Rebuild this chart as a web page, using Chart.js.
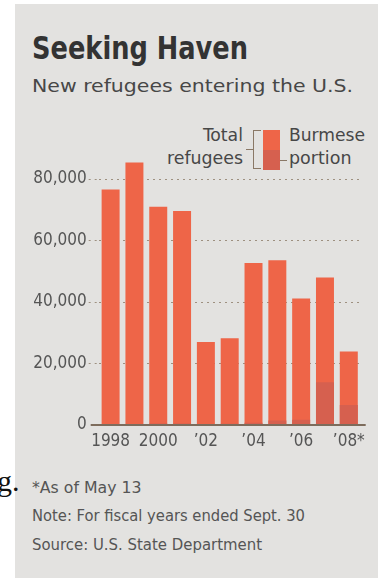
<!DOCTYPE html>
<html><head><meta charset="utf-8">
<script src="https://cdn.jsdelivr.net/npm/chart.js@4.4.1/dist/chart.umd.min.js"></script>
<style>
html,body{margin:0;padding:0;background:#fff;width:380px;height:578px;overflow:hidden;position:relative;}
#panel{position:absolute;left:15px;top:4px;width:363px;height:574px;background:#e3e2e0;}
#c{position:absolute;left:0;top:0;}
.t{position:absolute;white-space:nowrap;line-height:1;font-family:'DejaVu Sans Condensed','DejaVu Sans',sans-serif;font-stretch:condensed;transform-origin:0 0;color:#474747;}
.g{position:absolute;background:#8a7866;}
</style></head>
<body>
<div id="panel"></div>
<div class="t fit" data-x="32" data-b="59.3" data-fs="32" data-w="216" style="font-weight:bold;color:#333;">Seeking Haven</div>
<div class="t fit" data-x="32" data-b="93.3" data-fs="17.5" data-w="321">New refugees entering the U.S.</div>
<div class="t fit" data-x="203" data-b="141.7" data-fs="17.5" data-w="40">Total</div>
<div class="t fit" data-x="167" data-b="165" data-fs="17.5" data-w="76">refugees</div>
<div class="t fit" data-x="289" data-b="141.7" data-fs="17.5" data-w="76">Burmese</div>
<div class="t fit" data-x="289.3" data-b="165" data-fs="17.5" data-w="62.5">portion</div>
<div class="t fit" data-x="32" data-b="494" data-fs="15.5" data-w="109.5" style="color:#555;">*As of May 13</div>
<div class="t fit" data-x="32" data-b="522.3" data-fs="15.5" data-w="273" style="color:#555;">Note: For fiscal years ended Sept. 30</div>
<div class="t fit" data-x="32" data-b="551" data-fs="15.5" data-w="230" style="color:#555;">Source: U.S. State Department</div>
<div class="t" data-x="-3" data-b="491" data-fs="30" style="font-family:'Liberation Serif',serif;font-stretch:normal;color:#111;">g.</div>

<div style="position:absolute;left:253px;top:130px;width:8px;height:39px;box-sizing:border-box;border:1.5px solid #8a7866;border-right:none;"></div>
<div class="g" style="left:246px;top:148.5px;width:7px;height:1.5px;"></div>
<div style="position:absolute;left:263px;top:129.5px;width:17px;height:20px;background:#ee6548;"></div>
<div style="position:absolute;left:263px;top:149.5px;width:17px;height:20px;background:#d6604f;"></div>
<div class="g" style="left:280px;top:159.5px;width:6.5px;height:1.5px;"></div>

<canvas id="c" width="380" height="578"></canvas>
<script>
// ---- data ----
const years = ['1998','1999','2000','2001','2002','2003','2004','2005','2006','2007','2008'];
const xTickLabels = ['1998','','2000','','\u201902','','\u201904','','\u201906','','\u201908*'];
const totalRefugees = [76600, 85400, 71000, 69600, 27000, 28200, 52700, 53600, 41100, 48000, 23900];
const burmesePortion = [200, 300, 500, 500, 200, 400, 700, 1500, 1700, 13900, 6500];
const yTickValues = [0, 20000, 40000, 60000, 80000];

// ---- text layout ----
document.querySelectorAll('.t').forEach(el => {
  const fs = parseFloat(el.dataset.fs);
  el.style.fontSize = fs + 'px';
  el.style.left = el.dataset.x + 'px';
  el.style.top = (parseFloat(el.dataset.b) - 0.846 * fs) + 'px';
});
document.querySelectorAll('.fit').forEach(el => {
  const w = el.getBoundingClientRect().width;
  el.style.transform = 'scaleX(' + (parseFloat(el.dataset.w) / w) + ')';
});

// ---- chart ----
const FONT = "'DejaVu Sans Condensed','DejaVu Sans',sans-serif";
const zeroLine = {
  id: 'zeroLine',
  afterDatasetsDraw(chart) {
    const {ctx, chartArea, scales} = chart;
    const y = scales.y.getPixelForValue(0);
    ctx.save();
    ctx.strokeStyle = '#7d6c5c';
    ctx.lineWidth = 2;
    ctx.beginPath();
    ctx.moveTo(chartArea.left - 8, y);
    ctx.lineTo(chartArea.right + 5, y);
    ctx.stroke();
    ctx.restore();
  }
};
new Chart(document.getElementById('c'), {
  type: 'bar',
  data: {
    labels: years,
    datasets: [
      {label: 'Burmese portion', data: burmesePortion, backgroundColor: '#d6604f', order: 0,
       grouped: false, barPercentage: 0.755, categoryPercentage: 1},
      {label: 'Total refugees', data: totalRefugees, backgroundColor: '#ee6548', order: 1,
       grouped: false, barPercentage: 0.755, categoryPercentage: 1}
    ]
  },
  options: {
    responsive: false, animation: false, devicePixelRatio: 1,
    layout: {padding: {left: 0, right: 19.3, top: 148.25, bottom: 0}},
    plugins: {legend: {display: false}, tooltip: {enabled: false}},
    scales: {
      x: {
        offset: true,
        grid: {display: false, drawTicks: false},
        border: {display: false},
        ticks: {autoSkip: false, maxRotation: 0, padding: 6.5, color: '#555',
          font: {family: FONT, size: 17},
          callback: (v, i) => xTickLabels[i]},
        afterFit: s => { s.height = 153; }
      },
      y: {
        min: 0, max: 90000,
        afterBuildTicks: s => { s.ticks = yTickValues.map(v => ({value: v})); },
        grid: {
          color: c => (c.tick && c.tick.value === 0) ? 'rgba(0,0,0,0)' : '#9e9080',
          lineWidth: 1, drawTicks: true, tickLength: 10, tickBorderDash: [2, 4]
        },
        border: {display: false, dash: [2, 4]},
        ticks: {padding: 2, color: '#555', font: {family: FONT, size: 17},
          callback: v => v === 0 ? '0' : v.toLocaleString('en-US')},
        afterFit: s => { s.width = 98.7; }
      }
    }
  },
  plugins: [zeroLine]
});
</script>
</body></html>
